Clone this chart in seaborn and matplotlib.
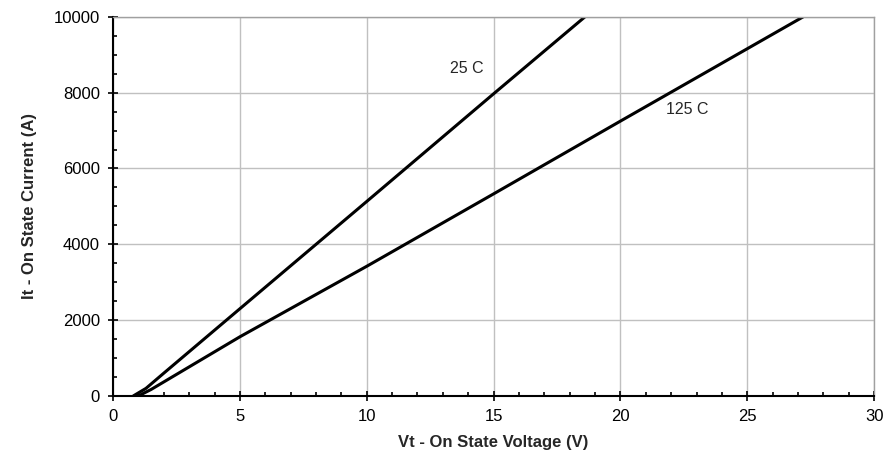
import matplotlib
matplotlib.use("Agg")
import matplotlib.pyplot as plt
import seaborn as sns
import pandas as pd
from matplotlib.ticker import MultipleLocator

# curvas
v_25 = [0.8, 1.3, 2.0, 5.0, 10.0, 15.0, 18.6]
i_25 = [0, 200, 600, 2300, 5130, 7970, 10000]

v_125 = [1.0, 1.5, 5.0, 10.0, 15.0, 20.0, 27.2]
i_125 = [0, 170, 1560, 3420, 5330, 7250, 10000]

df = pd.concat([
    pd.DataFrame({'v': v_25, 'i': i_25, 'temp': '25 C'}),
    pd.DataFrame({'v': v_125, 'i': i_125, 'temp': '125 C'}),
])

sns.set_style('white')
plt.rcParams['font.family'] = ['Liberation Sans', 'DejaVu Sans']

fig, ax = plt.subplots(figsize=(8.83, 4.68), dpi=100)
fig.subplots_adjust(left=0.128, right=0.99, top=0.964, bottom=0.154)

sns.lineplot(data=df, x='v', y='i', units='temp', estimator=None,
             color='black', linewidth=2.2, sort=False, ax=ax)

ax.set_xlim(0, 30)
ax.set_ylim(0, 10000)
ax.xaxis.set_major_locator(MultipleLocator(5))
ax.xaxis.set_minor_locator(MultipleLocator(1))
ax.yaxis.set_major_locator(MultipleLocator(2000))
ax.yaxis.set_minor_locator(MultipleLocator(500))
ax.grid(True, which='major', color='#c0c0c0', linewidth=1)

for s in ['top', 'right']:
    ax.spines[s].set_color('#a0a0a0')
    ax.spines[s].set_linewidth(1)
for s in ['left', 'bottom']:
    ax.spines[s].set_color('black')
    ax.spines[s].set_linewidth(1.5)

ax.tick_params(which='major', direction='inout', length=7, width=1.2,
               labelsize=12, colors='black', pad=6)
ax.tick_params(which='minor', direction='in', length=3, width=1.2, colors='black')
ax.tick_params(axis='x', which='both', bottom=True)
ax.tick_params(axis='y', which='both', left=True)

ax.text(13.3, 8650, '25 C', fontsize=11.5, va='center')
ax.text(21.8, 7550, '125 C', fontsize=11.5, va='center')

ax.set_xlabel('Vt - On State Voltage (V)', fontsize=12, fontweight='bold', labelpad=8)
ax.set_ylabel('It - On State Current (A)', fontsize=12, fontweight='bold', labelpad=12)
if ax.get_legend():
    ax.get_legend().remove()

plt.savefig('out.png', dpi=100)
